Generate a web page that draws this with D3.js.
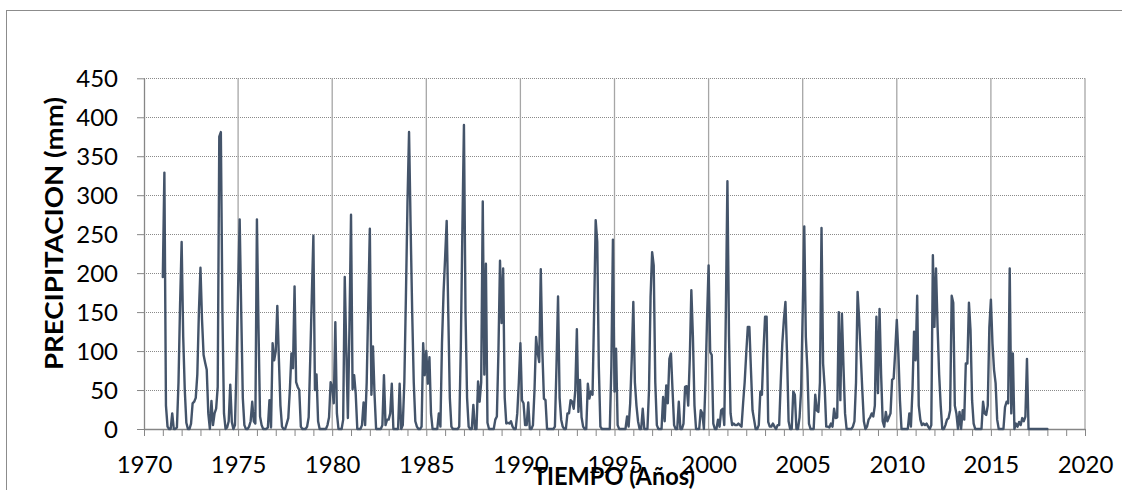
<!DOCTYPE html>
<html><head><meta charset="utf-8">
<script src="https://cdn.jsdelivr.net/npm/d3@7"></script>
<style>html,body{margin:0;padding:0;background:#fff;} svg{display:block;}</style>
</head><body><svg id="c" width="1122" height="490"></svg>
<script>
// Monthly precipitation (mm), January..December, one row per year
const firstYear = 1971;
const precip1970s = [
  195, 329, 30, 3, 0, 0, 20, 0, 0, 2, 60, 160,      // 1971
  240, 118, 50, 8, 0, 0, 7, 33, 35, 40, 70, 150,    // 1972
  207, 140, 95, 85, 76, 20, 0, 36, 5, 20, 26, 54,   // 1973
  375, 381, 150, 20, 0, 2, 10, 57, 9, 0, 5, 80,     // 1974
  180, 269, 150, 40, 5, 0, 0, 3, 10, 35, 10, 7,     // 1975
  269, 130, 16, 5, 0, 0, 0, 2, 37, 2, 110, 88,      // 1976
  100, 158, 90, 30, 3, 0, 0, 7, 14, 50, 97, 78,     // 1977
  183, 60, 54, 50, 3, 0, 0, 0, 3, 15, 90, 170,      // 1978
  248, 50, 70, 10, 0, 0, 0, 0, 0, 5, 15, 60         // 1979
];
const precip1980s = [
  55, 33, 137, 20, 0, 0, 0, 12, 195, 100, 14, 130,  // 1980
  275, 51, 69, 45, 0, 0, 0, 5, 34, 5, 60, 160,      // 1981
  257, 44, 106, 44, 0, 0, 0, 0, 5, 69, 5, 12,       // 1982
  12, 20, 58, 0, 0, 0, 0, 58, 0, 5, 60, 170,        // 1983
  290, 381, 260, 150, 60, 10, 3, 0, 0, 3, 110, 69,  // 1984
  100, 58, 92, 20, 0, 0, 0, 0, 20, 3, 110, 175,     // 1985
  220, 267, 150, 40, 3, 0, 0, 0, 0, 3, 105, 255,    // 1986
  390, 150, 40, 3, 0, 0, 31, 0, 0, 61, 35, 60,      // 1987
  292, 70, 212, 8, 0, 0, 0, 0, 12, 16, 100, 216,    // 1988
  136, 206, 40, 7, 8, 7, 10, 3, 0, 0, 20, 60        // 1989
];
const precip1990s = [
  110, 37, 33, 5, 5, 34, 0, 0, 5, 50, 118, 98,      // 1990
  86, 205, 100, 39, 37, 0, 0, 0, 0, 0, 3, 80,       // 1991
  170, 40, 12, 3, 0, 0, 20, 20, 37, 35, 26, 50,     // 1992
  128, 22, 63, 15, 3, 0, 0, 58, 39, 48, 44, 150,    // 1993
  268, 240, 80, 3, 0, 0, 0, 0, 0, 0, 80, 243,       // 1994
  48, 103, 5, 0, 0, 0, 0, 0, 16, 3, 33, 90,         // 1995
  163, 60, 30, 10, 0, 0, 26, 0, 0, 0, 50, 170,      // 1996
  227, 210, 60, 5, 0, 0, 0, 41, 10, 56, 33, 90,     // 1997
  97, 50, 5, 0, 0, 35, 0, 0, 7, 54, 55, 30,         // 1998
  90, 178, 118, 30, 0, 0, 0, 24, 20, 0, 60, 140     // 1999
];
const precip2000s = [
  210, 99, 95, 7, 0, 0, 12, 3, 24, 26, 5, 150,      // 2000
  318, 120, 20, 5, 7, 5, 5, 7, 5, 3, 33, 60,        // 2001
  97, 131, 131, 76, 24, 12, 0, 0, 5, 48, 44, 100,   // 2002
  144, 144, 9, 3, 3, 7, 3, 0, 5, 5, 60, 110,        // 2003
  140, 163, 97, 10, 0, 0, 48, 44, 0, 0, 15, 50,     // 2004
  150, 260, 118, 76, 7, 0, 0, 0, 44, 24, 22, 60,    // 2005
  258, 84, 54, 3, 3, 2, 7, 3, 26, 14, 15, 150,      // 2006
  37, 148, 80, 20, 0, 0, 0, 0, 3, 10, 60, 176,      // 2007
  140, 95, 50, 10, 0, 3, 12, 15, 20, 16, 30, 144,   // 2008
  46, 154, 70, 10, 3, 22, 10, 15, 20, 63, 65, 100   // 2009
];
const precip2010s = [
  140, 97, 37, 0, 0, 0, 0, 0, 20, 3, 50, 125,       // 2010
  88, 171, 30, 12, 5, 7, 5, 7, 3, 0, 5, 223,        // 2011
  131, 206, 131, 70, 30, 0, 0, 5, 12, 14, 24, 171,  // 2012
  162, 30, 20, 0, 22, 0, 24, 12, 84, 84, 162, 127,  // 2013
  37, 7, 0, 0, 0, 0, 0, 35, 20, 18, 30, 130,        // 2014
  166, 110, 76, 59, 12, 0, 0, 0, 0, 28, 35, 33,     // 2015
  206, 20, 97, 0, 7, 3, 9, 5, 14, 10, 16, 90,       // 2016
  0, 0, 0, 0, 0, 0, 0, 0, 0, 0, 0, 0,               // 2017
  0                                                 // 2018 (Jan)
];
const xTickYears = [1970, 1975, 1980, 1985, 1990, 1995, 2000, 2005, 2010, 2015, 2020];
const yTickValues = [0, 50, 100, 150, 200, 250, 300, 350, 400, 450];
const xTitle = "TIEMPO (Años)";
const yTitle = "PRECIPITACION (mm)";

const values = [].concat(precip1970s, precip1980s, precip1990s, precip2000s, precip2010s);
const series = values.map((v, i) => ({ t: firstYear + i / 12, v }));

const svg = d3.select("#c");
const L = 144, R = 1085, T = 78.3, B = 429;
const x = d3.scaleLinear().domain([1970, 2020]).range([L, R]);
const y = d3.scaleLinear().domain([0, 450]).range([B, T]);
const font = "Lato, 'Open Sans', sans-serif";

svg.append("rect").attr("width", 1122).attr("height", 490).attr("fill", "#fff");
// outer chart frame
svg.append("rect").attr("x", 6.5).attr("y", 10.5).attr("width", 1300).attr("height", 700)
  .attr("fill", "none").attr("stroke", "#8c8c8c").attr("stroke-width", 1);

// horizontal dotted gridlines
svg.append("g").selectAll("line").data(yTickValues.filter(d => d > 0)).join("line")
  .attr("x1", L).attr("x2", R)
  .attr("y1", d => Math.round(y(d)) + 0.5).attr("y2", d => Math.round(y(d)) + 0.5)
  .attr("stroke", "#8a8a8a").attr("stroke-width", 1).attr("stroke-dasharray", "1,1");

// vertical solid gridlines
svg.append("g").selectAll("line").data(xTickYears.filter(d => d > 1970)).join("line")
  .attr("x1", d => x(d)).attr("x2", d => x(d)).attr("y1", T).attr("y2", B)
  .attr("stroke", "#a6a6a6").attr("stroke-width", 1.3);

// x axis (yearly ticks, labels every 5 years)
const xAxis = d3.axisBottom(x).tickValues(d3.range(1970, 2021)).tickSize(7)
  .tickFormat(d => xTickYears.includes(d) ? String(d) : "").tickSizeOuter(0);
const gx = svg.append("g").attr("transform", `translate(0,${B})`).call(xAxis);
gx.select(".domain").attr("stroke", "#868686").attr("stroke-width", 1.3);
gx.selectAll(".tick line").attr("stroke", "#868686").attr("stroke-width", 1);
gx.selectAll(".tick text").attr("font-family", font).attr("font-size", 24)
  .attr("fill", "#000").attr("y", 27).attr("dy", "0.71em");

// y axis
const yAxis = d3.axisLeft(y).tickValues(yTickValues).tickSize(7).tickSizeOuter(0).tickFormat(d3.format("d"));
const gy = svg.append("g").attr("transform", `translate(${L},0)`).call(yAxis);
gy.select(".domain").attr("stroke", "#868686").attr("stroke-width", 1.3);
gy.selectAll(".tick line").attr("stroke", "#868686").attr("stroke-width", 1);
gy.selectAll(".tick text").attr("font-family", font).attr("font-size", 24)
  .attr("fill", "#000").attr("x", -26).attr("dy", "0.35em");

// data line
const line = d3.line().x(d => x(d.t)).y(d => y(d.v));
svg.append("path").datum(series).attr("d", line)
  .attr("fill", "none").attr("stroke", "#44546a").attr("stroke-width", 2.4)
  .attr("stroke-linejoin", "round").attr("stroke-linecap", "round");

// titles
svg.append("text").attr("x", 614).attr("y", 485).attr("text-anchor", "middle")
  .attr("font-family", font).attr("font-weight", "bold").attr("font-size", 24)
  .attr("textLength", 162).attr("lengthAdjust", "spacingAndGlyphs")
  .attr("fill", "#000").text(xTitle);
svg.append("text").attr("transform", "translate(63,233.5) rotate(-90)").attr("text-anchor", "middle")
  .attr("font-family", font).attr("font-weight", "bold").attr("font-size", 24)
  .attr("textLength", 273).attr("lengthAdjust", "spacingAndGlyphs")
  .attr("fill", "#000").text(yTitle);
</script></body></html>
